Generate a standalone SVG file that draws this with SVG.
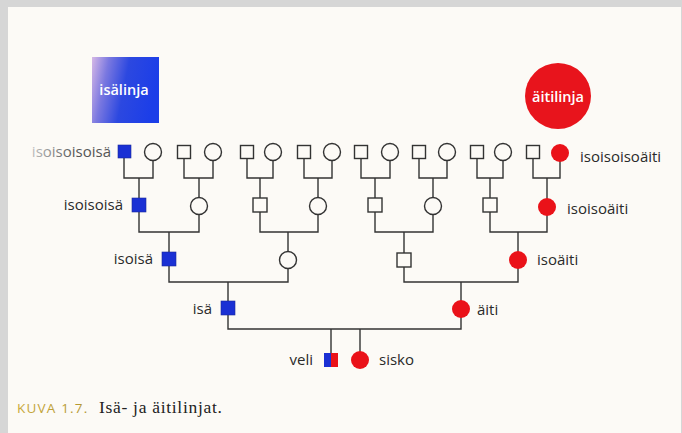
<svg xmlns="http://www.w3.org/2000/svg" width="682" height="433" viewBox="0 0 682 433">
<defs>
<linearGradient id="gBlue" x1="0" y1="0" x2="1" y2="0.2">
<stop offset="0" stop-color="#d6b8e6"/>
<stop offset="0.25" stop-color="#7a78e0"/>
<stop offset="0.55" stop-color="#2c48e0"/>
<stop offset="1" stop-color="#1c3ee8"/>
</linearGradient>
<linearGradient id="gFade" gradientUnits="userSpaceOnUse" x1="25" y1="0" x2="75" y2="0">
<stop offset="0" stop-color="#cfcfcf"/>
<stop offset="1" stop-color="#555"/>
</linearGradient>
<linearGradient id="gGold" gradientUnits="userSpaceOnUse" x1="17" y1="0" x2="95" y2="0">
<stop offset="0" stop-color="#c8a83a"/>
<stop offset="1" stop-color="#b09430"/>
</linearGradient>
</defs>
<style>
.ln{fill:none;stroke:#333;stroke-width:1.4}
.sq{fill:#fcfaf6;stroke:#333;stroke-width:1.4}
.ci{fill:#fcfaf6;stroke:#333;stroke-width:1.4}
.bsq{fill:#1a30d4;stroke:#1a2a9a;stroke-width:0.6}
.rci{fill:#ea1219}
.lb{font-family:"Open Sans","Noto Sans",sans-serif;font-size:15px;fill:#2a2a2a}
.hd{font-family:"Open Sans","Noto Sans",sans-serif;font-size:14.5px;fill:#fff;font-weight:600}
</style>
<rect x="0" y="0" width="682" height="433" fill="#d6d6d6"/>
<rect x="8" y="7" width="673" height="426" fill="#fcfaf6"/>

<g id="header-isalinja">
<rect x="92" y="57" width="67" height="66" fill="url(#gBlue)"/>
<text class="hd" x="124" y="95" text-anchor="middle">isälinja</text>
</g>
<g id="header-aitilinja">
<circle cx="558" cy="96" r="33" fill="#e8141c"/>
<text class="hd" x="558" y="102" text-anchor="middle" font-weight="400">äitilinja</text>
</g>

<g id="connectors">
<path class="ln" d="M124,152V178H153V152M139,178V205"/>
<path class="ln" d="M184,152V178H213V152M199,178V205"/>
<path class="ln" d="M247,152V178H273V152M260,178V205"/>
<path class="ln" d="M304,152V178H332V152M318,178V205"/>
<path class="ln" d="M361,152V178H390V152M375,178V205"/>
<path class="ln" d="M419,152V178H447V152M433,178V205"/>
<path class="ln" d="M477,152V178H503V152M490,178V205"/>
<path class="ln" d="M533,152V178H560V152M547,178V205"/>
<path class="ln" d="M139,205V232H199V205M169,232V259"/>
<path class="ln" d="M260,205V232H318V205M288,232V259"/>
<path class="ln" d="M375,205V232H433V205M404,232V259"/>
<path class="ln" d="M490,205V232H547V205M518,232V259"/>
<path class="ln" d="M169,259V282H288V259M228,282V309"/>
<path class="ln" d="M404,259V282H518V259M461,282V309"/>
<path class="ln" d="M228,309V329H461V309M331,329V360M360,329V360"/>
</g>

<g id="n-isoisoisoisa"><rect class="bsq" x="118" y="145" width="13" height="13"/><text class="lb" x="111" y="157" text-anchor="end" style="fill:url(#gFade)">isoisoisoisä</text></g>
<g id="n-t2"><circle class="ci" cx="153" cy="152" r="8.5"/></g>
<g id="n-t3"><rect class="sq" x="177.5" y="145.5" width="13" height="13"/></g>
<g id="n-t4"><circle class="ci" cx="213" cy="152" r="8.5"/></g>
<g id="n-t5"><rect class="sq" x="240.5" y="145.5" width="13" height="13"/></g>
<g id="n-t6"><circle class="ci" cx="273" cy="152" r="8.5"/></g>
<g id="n-t7"><rect class="sq" x="297.5" y="145.5" width="13" height="13"/></g>
<g id="n-t8"><circle class="ci" cx="332" cy="152" r="8.5"/></g>
<g id="n-t9"><rect class="sq" x="354.5" y="145.5" width="13" height="13"/></g>
<g id="n-t10"><circle class="ci" cx="390" cy="152" r="8.5"/></g>
<g id="n-t11"><rect class="sq" x="412.5" y="145.5" width="13" height="13"/></g>
<g id="n-t12"><circle class="ci" cx="447" cy="152" r="8.5"/></g>
<g id="n-t13"><rect class="sq" x="470.5" y="145.5" width="13" height="13"/></g>
<g id="n-t14"><circle class="ci" cx="503" cy="152" r="8.5"/></g>
<g id="n-t15"><rect class="sq" x="526.5" y="145.5" width="13" height="13"/></g>
<g id="n-isoisoisoaiti"><circle class="rci" cx="560" cy="153" r="9"/><text class="lb" x="580" y="162">isoisoisoäiti</text></g>

<g id="n-isoisoisa"><rect class="bsq" x="132" y="198" width="14" height="14"/><text class="lb" x="123" y="210" text-anchor="end">isoisoisä</text></g>
<g id="n-g2b"><circle class="ci" cx="199" cy="206" r="8.5"/></g>
<g id="n-g2c"><rect class="sq" x="253" y="198" width="14" height="14"/></g>
<g id="n-g2d"><circle class="ci" cx="318" cy="206" r="8.5"/></g>
<g id="n-g2e"><rect class="sq" x="368" y="198" width="14" height="14"/></g>
<g id="n-g2f"><circle class="ci" cx="433" cy="206" r="8.5"/></g>
<g id="n-g2g"><rect class="sq" x="483" y="198" width="14" height="14"/></g>
<g id="n-isoisoaiti"><circle class="rci" cx="547" cy="207" r="9"/><text class="lb" x="567" y="214">isoisoäiti</text></g>

<g id="n-isoisa"><rect class="bsq" x="162" y="252" width="14" height="14"/><text class="lb" x="153" y="264" text-anchor="end">isoisä</text></g>
<g id="n-g3b"><circle class="ci" cx="288" cy="260" r="8.5"/></g>
<g id="n-g3c"><rect class="sq" x="397" y="253" width="14" height="14"/></g>
<g id="n-isoaiti"><circle class="rci" cx="518" cy="260" r="9"/><text class="lb" x="537" y="265">isoäiti</text></g>

<g id="n-isa"><rect class="bsq" x="221" y="301" width="14" height="14"/><text class="lb" x="212" y="314" text-anchor="end">isä</text></g>
<g id="n-aiti"><circle class="rci" cx="461" cy="309" r="9"/><text class="lb" x="477" y="315">äiti</text></g>

<g id="n-veli"><rect x="324" y="353" width="7" height="14" fill="#1a30d4"/><rect x="331" y="353" width="7" height="14" fill="#ea1219"/><text class="lb" x="313" y="365" text-anchor="end">veli</text></g>
<g id="n-sisko"><circle class="rci" cx="360" cy="360" r="9"/><text class="lb" x="379" y="365">sisko</text></g>

<g id="caption">
<text x="17" y="413" font-family="Open Sans, Noto Sans, sans-serif" font-size="13.5" letter-spacing="1.2" style="fill:url(#gGold)">KUVA 1.7.</text>
<text x="99" y="413" font-family="Liberation Serif, serif" font-size="17.5" letter-spacing="0.7" fill="#222">Isä- ja äitilinjat.</text>
</g>
</svg>
